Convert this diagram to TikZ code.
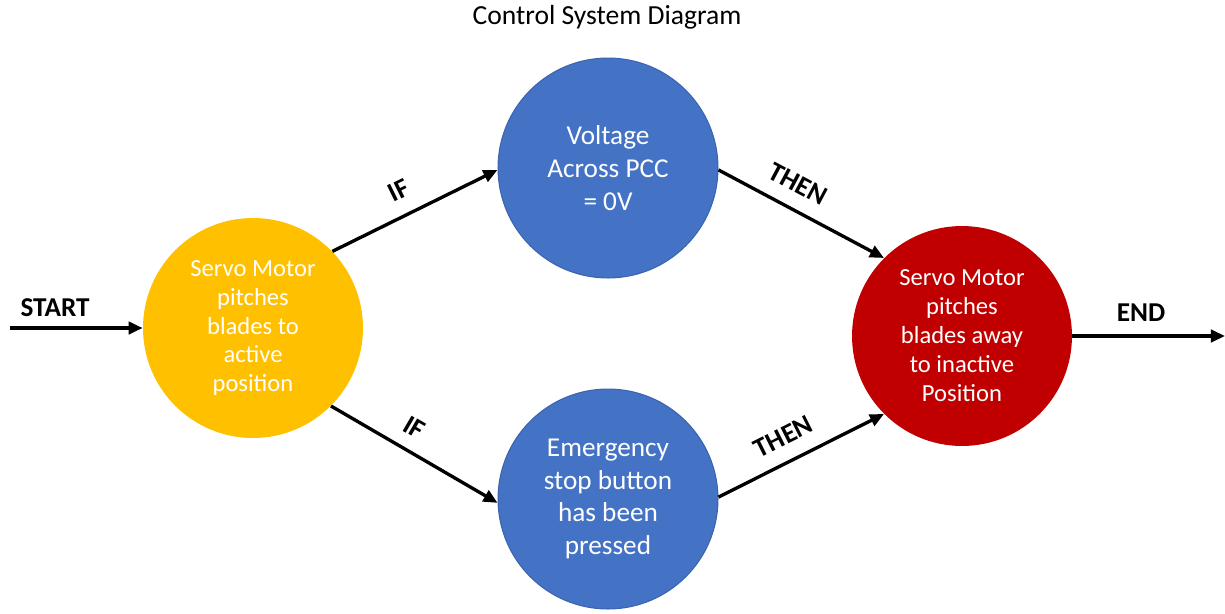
\documentclass[tikz,border=0pt]{standalone}
\usepackage{fontspec}
\setmainfont{Carlito}
\usetikzlibrary{arrows.meta}
\definecolor{stateyellow}{HTML}{FFC000}
\definecolor{stateblue}{HTML}{4472C4}
\definecolor{statered}{HTML}{C00000}
\definecolor{blueedge}{HTML}{3A64B0}
\begin{document}
\begin{tikzpicture}[x=0.02cm,y=-0.02cm,
  state/.style={circle,minimum size=4.4cm,inner sep=0pt,align=center,text=white},
  flow/.style={-{Triangle[length=8pt,width=7pt]},line width=1.9pt},
  cond/.style={font=\bfseries\fontsize{15.5}{17}\selectfont,sloped,above=1pt}]
  % Bordo
  \useasboundingbox (0,0) rectangle (1225,613);

  % Titolo
  \node (title) at (607,17) {\fontsize{15.7}{17}\selectfont Control System Diagram};

  % Nodi
  \node[state,fill=stateyellow,font=\fontsize{14}{16.5}\selectfont] (active) at (253,328)
    {Servo Motor\\pitches\\blades to\\active\\position};
  \node[state,fill=stateblue,draw=blueedge,line width=0.6pt,font=\fontsize{15.5}{18.7}\selectfont] (voltage) at (608,168)
    {Voltage\\Across PCC\\= 0V};
  \node[state,fill=stateblue,draw=blueedge,line width=0.6pt,font=\fontsize{15.5}{18.7}\selectfont] (estop) at (608,499)
    {Emergency\\stop button\\has been\\pressed};
  \node[state,fill=statered,font=\fontsize{14}{16.5}\selectfont] (inactive) at (962,336)
    {Servo Motor\\pitches\\blades away\\to inactive\\Position};
  \coordinate (begin) at (10,328);
  \coordinate (finish) at (1225,336);

  % Frecce
  \draw[flow] (begin) -- node[cond,pos=0.34,above=1pt] (startlbl) {START} (active.west);
  \draw[flow] (active.44) -- node[cond,pos=0.47,above=4pt] (ifup) {IF} (voltage.181);
  \draw[flow] (active.-45) -- node[cond,pos=0.43,above=3pt] (ifdown) {IF} (estop.182);
  \draw[flow] (voltage.-1) -- node[cond,pos=0.41,above=4pt] (thenup) {THEN} (inactive.135);
  \draw[flow] (estop.1) -- node[cond,pos=0.46,above=4pt] (thendown) {THEN} (inactive.225);
  \draw[flow] (inactive.east) -- node[cond,pos=0.45,above=3pt] (endlbl) {END} (finish);
\end{tikzpicture}
\end{document}
